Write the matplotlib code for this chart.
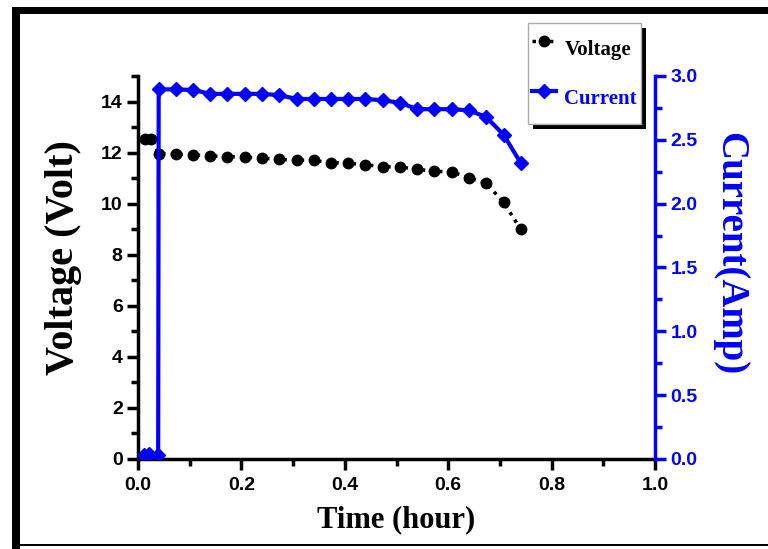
import matplotlib.pyplot as plt
import matplotlib.patheffects as pe
from matplotlib.patches import Rectangle

# data
t_main = [0.040, 0.073, 0.107, 0.140, 0.173, 0.207, 0.240, 0.273, 0.307, 0.340, 0.373,
          0.407, 0.440, 0.473, 0.507, 0.540, 0.573, 0.607, 0.640, 0.673, 0.707, 0.740]
volt_t = [0.013, 0.026] + t_main
volt = [12.52, 12.52, 11.96, 11.94, 11.91, 11.87, 11.84, 11.82, 11.78, 11.73, 11.71, 11.69,
        11.61, 11.58, 11.52, 11.45, 11.43, 11.35, 11.26, 11.25, 11.01, 10.81, 10.05, 9.01]
curr_t = [0.012, 0.022, 0.039] + t_main
curr = [0.03, 0.04, 0.03, 2.895, 2.895, 2.89, 2.86, 2.86, 2.86, 2.86, 2.85, 2.82, 2.82,
        2.82, 2.82, 2.82, 2.81, 2.79, 2.74, 2.74, 2.74, 2.73, 2.68, 2.54, 2.32]

blue = '#0000ff'
serif = 'Liberation Serif'

fig = plt.figure(figsize=(7.68, 5.49), dpi=100)
ax = fig.add_axes([0.1797, 0.164, 0.6732, 0.6976])
ax2 = ax.twinx()

l1, = ax.plot(volt_t, volt, color='black', linestyle=(0, (1, 1.5)), lw=2.5,
              marker='o', ms=7.5, label='Voltage')
l2, = ax2.plot(curr_t, curr, color=blue, lw=3, marker='D', ms=7, label='Current')

ax.set_xlim(0, 1.0)
ax.set_ylim(0, 15)
ax2.set_ylim(0, 3.0)
ax.set_xticks([0.0, 0.2, 0.4, 0.6, 0.8, 1.0])
ax.set_xticks([0.1, 0.3, 0.5, 0.7, 0.9], minor=True)
ax.set_yticks(range(0, 15, 2))
ax.set_yticks(range(1, 16, 2), minor=True)
ax2.set_yticks([0.0, 0.5, 1.0, 1.5, 2.0, 2.5, 3.0])
ax2.set_yticks([0.25, 0.75, 1.25, 1.75, 2.25, 2.75], minor=True)

for a in (ax, ax2):
    a.spines['top'].set_visible(False)
    for s in a.spines.values():
        s.set_linewidth(2.5)
ax.spines['right'].set_visible(False)
ax2.spines['left'].set_visible(False)
ax2.spines['bottom'].set_visible(False)
ax2.spines['right'].set_color(blue)

ax.tick_params(which='major', direction='out', length=8, width=2.5, pad=3)
ax.tick_params(axis='x', which='major', pad=5)
ax.tick_params(which='minor', direction='out', length=5, width=2.5)
ax2.tick_params(which='major', direction='out', length=8, width=2.5, colors=blue, pad=3)
ax2.tick_params(which='minor', direction='out', length=5, width=2.5, colors=blue)
ax.xaxis.set_major_formatter(plt.FormatStrFormatter('%.1f'))
ax2.yaxis.set_major_formatter(plt.FormatStrFormatter('%.1f'))
for lab in ax.get_xticklabels() + ax.get_yticklabels() + ax2.get_yticklabels():
    lab.set_family('Liberation Sans')
    lab.set_fontweight('bold')
    lab.set_fontsize(14)

ax.set_xlabel('Time (hour)', family=serif, weight='bold', fontsize=22, labelpad=8)
ax.set_ylabel('Voltage (Volt)', family=serif, weight='bold', fontsize=29)
ax.yaxis.set_label_coords(-0.108, 0.525)
ax2.set_ylabel('Current(Amp)', family=serif, weight='bold', fontsize=28, color=blue,
               rotation=270)
ax2.yaxis.set_label_coords(1.18, 0.535)

leg = fig.legend(handles=[l1, l2], loc='upper left', bbox_to_anchor=(0.6875, 0.958),
                 borderaxespad=0, prop={'family': serif, 'weight': 'bold', 'size': 15},
                 handlelength=1.15, handletextpad=0.4, handleheight=2.8,
                 labelspacing=0.31, borderpad=0.2, fancybox=False,
                 edgecolor='#aaaaaa', framealpha=1)
leg.get_frame().set_linewidth(1)
leg.get_frame().set_path_effects([pe.SimplePatchShadow(offset=(3.5, -3.5),
                                                       shadow_rgbFace='black', alpha=1),
                                  pe.Normal()])
leg.get_texts()[1].set_color(blue)

# black frame around the figure
fig.add_artist(Rectangle((12 / 768, 1 - 14 / 549), 1, 7 / 549, transform=fig.transFigure,
                         color='black', lw=0))
fig.add_artist(Rectangle((12 / 768, 0), 8 / 768, 1 - 7 / 549, transform=fig.transFigure,
                         color='black', lw=0))
fig.add_artist(Rectangle((12 / 768, 3 / 549), 1, 2 / 549, transform=fig.transFigure,
                         color='black', lw=0))

fig.savefig('out.png', dpi=100)
